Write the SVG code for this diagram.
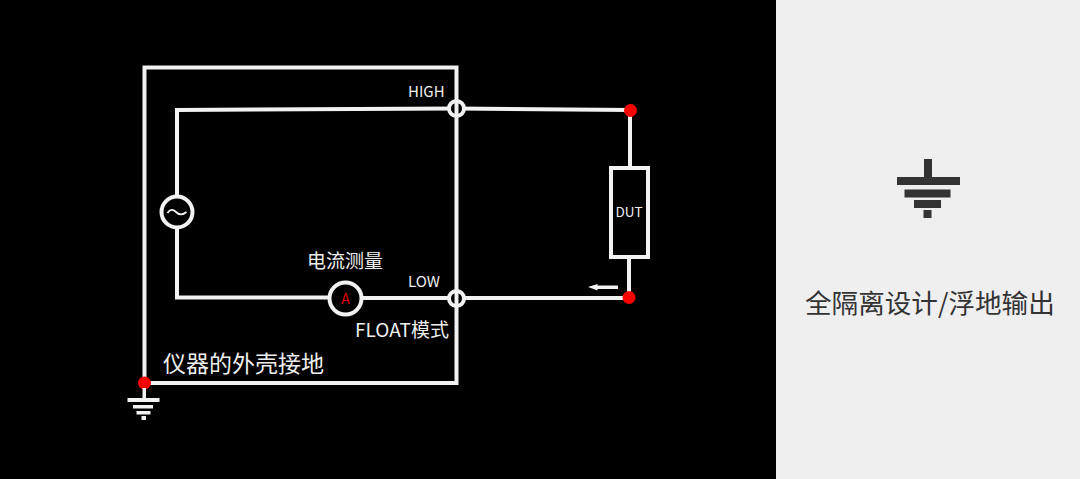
<svg xmlns="http://www.w3.org/2000/svg" width="1080" height="479" viewBox="0 0 1080 479">
<style>
text{font-family:"Noto Sans CJK SC","Noto Sans",sans-serif;fill:#eee}
.t{fill:none;stroke:#f2f2f2;stroke-width:4}
.c{fill:#000;stroke:#f2f2f2;stroke-width:4}
.r{fill:#f00}
.g{fill:#333}
</style>
<rect width="1080" height="479" fill="#000"/>
<rect id="panel" x="776" y="0" width="304" height="479" fill="#efefef"/>
<g id="connectors">
<path class="t" d="M144.500 383V67.500H456.500V383H144.500"/>
<path class="t" d="M177 195V110L457 108.500"/>
<path class="t" d="M177 229V297.500H330"/>
<path class="t" d="M361 298H629"/>
<path class="t" d="M457 108.500L630 110"/>
<path class="t" d="M630 110V168"/>
<path class="t" d="M629 257V297"/>
<path d="M618 285.500H597.500V284L588 287L597.500 290.500V289H618Z" fill="#f2f2f2"/>
</g>
<g id="port-high"><circle class="c" cx="456.500" cy="108.500" r="7.500"/><path class="t" stroke-width="3" d="M456.500 101V116"/></g>
<g id="port-low"><circle class="c" cx="456.500" cy="298.500" r="7.500"/><path class="t" d="M456.500 291V306"/></g>
<g id="source"><circle class="c" cx="177" cy="212" r="15.500"/><path d="M167.500 213C170 209 173 209 176 212C179 215 183 215 186.500 212" fill="none" stroke="#f2f2f2" stroke-width="1.800"/></g>
<g id="ammeter"><circle class="c" cx="345.500" cy="298.500" r="16"/><text x="345.500" y="304" font-size="14" text-anchor="middle" style="fill:#e00000">A</text></g>
<g id="dut"><rect x="611" y="168" width="37" height="89" fill="#000" stroke="#f2f2f2" stroke-width="4"/><text x="629" y="216.500" font-size="13.500" text-anchor="middle">DUT</text></g>
<g id="dot-top"><circle class="r" cx="630.500" cy="110.500" r="6.500"/></g>
<g id="dot-bottom"><circle class="r" cx="629" cy="297.500" r="6.500"/></g>
<g id="dot-ground"><circle class="r" cx="144.500" cy="383" r="6.500"/></g>
<g id="ground-small" fill="#f2f2f2">
<rect x="142.500" y="388" width="3.500" height="10"/><rect x="127.500" y="398" width="32" height="4"/><rect x="133" y="405" width="20" height="3.500"/><rect x="136.500" y="411" width="14" height="3.500"/><rect x="141.500" y="416" width="4.500" height="4"/>
</g>
<g id="ground-large">
<rect class="g" x="924" y="159" width="8" height="20"/><rect class="g" x="897" y="177" width="63" height="8"/><rect class="g" x="904.500" y="189.500" width="46" height="8"/><rect class="g" x="914" y="200" width="27" height="8"/><rect class="g" x="923.500" y="210" width="8" height="8"/>
</g>
<g id="labels">
<text x="408" y="97" font-size="15">HIGH</text>
<text x="408" y="287" font-size="15">LOW</text>
<text x="307" y="268" font-size="19">电流测量</text>
<text x="355" y="336.500" font-size="19">FLOAT模式</text>
<text x="163" y="372" font-size="23">仪器的外壳接地</text>
<text x="805" y="313" font-size="26.600" style="fill:#333">全隔离设计/浮地输出</text>
</g>
</svg>
